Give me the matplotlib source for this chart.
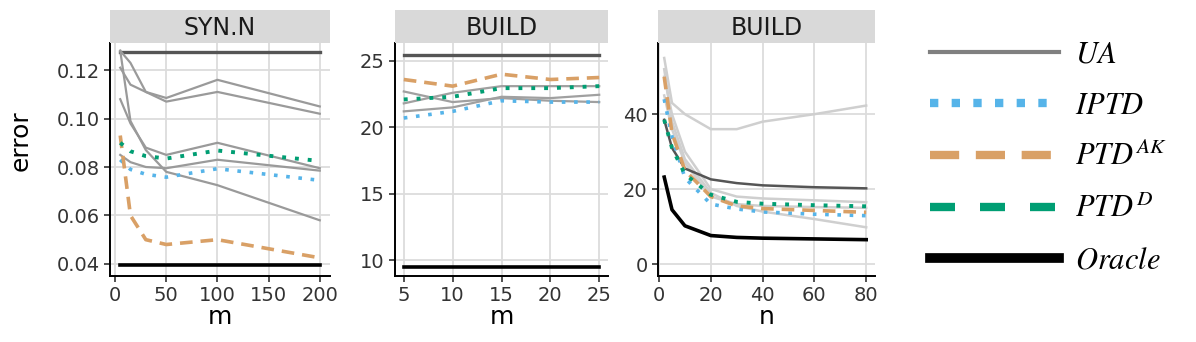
import numpy as np
import matplotlib.pyplot as plt
from matplotlib.lines import Line2D

plt.rcParams['mathtext.fontset'] = 'stix'

# SYN.N panel, error vs m
m_syn = [5, 15, 30, 50, 100, 200]
ua_syn = [
    [0.128, 0.123, 0.111, 0.1085, 0.116, 0.105],
    [0.121, 0.114, 0.111, 0.107, 0.111, 0.102],
    [0.108, 0.098, 0.088, 0.085, 0.090, 0.0795],
    [0.128, 0.099, 0.087, 0.078, 0.0725, 0.058],
    [0.085, 0.082, 0.080, 0.0795, 0.083, 0.0785],
]
ua_top_syn = [0.1276] * 6
iptd_syn = [0.083, 0.079, 0.077, 0.0758, 0.0793, 0.0745]
ptdak_syn = [0.093, 0.060, 0.050, 0.048, 0.050, 0.0425]
ptdd_syn = [0.090, 0.0865, 0.0845, 0.0835, 0.0868, 0.0825]
oracle_syn = [0.0397] * 6

# BUILD panel, error vs m
m_build = [5, 10, 15, 20, 25]
ua_build = [
    [22.7, 21.9, 22.2, 22.0, 21.9],
    [21.8, 22.6, 23.1, 23.1, 23.1],
    [21.2, 21.5, 22.3, 22.2, 22.45],
]
ua_top_build = [25.45] * 5
iptd_build = [20.7, 21.2, 22.0, 21.9, 21.9]
ptdak_build = [23.6, 23.1, 24.0, 23.6, 23.75]
ptdd_build = [22.1, 22.3, 22.95, 22.95, 23.1]
oracle_build = [9.45] * 5

# BUILD panel, error vs n
n_build = [2, 5, 10, 20, 30, 40, 60, 80]
ua_light_n = [
    [55, 43, 40, 36, 36, 38, 40, 42.3],
    [52, 38, 28, 19, 15.5, 14, 12, 9.8],
    [50, 40, 30, 20, 18, 17.5, 17, 16.5],
    [45, 36, 27, 18, 16, 15.5, 15.2, 15],
]
ua_dark_n = [38.5, 31, 25.5, 22.6, 21.6, 21.0, 20.5, 20.2]
iptd_n = [44, 34, 23, 16, 14.7, 13.9, 13.3, 12.9]
ptdak_n = [50, 35, 25, 18, 15.5, 14.8, 14.3, 13.8]
ptdd_n = [38.5, 31, 24, 18.5, 16.6, 16.1, 15.7, 15.4]
oracle_n = [23.2, 14.5, 10.2, 7.6, 7.1, 6.9, 6.7, 6.5]

BLUE = '#56B4E9'
ORANGE = '#D9A066'
GREEN = '#009E73'

W, H = 1196, 342
fig = plt.figure(figsize=(W / 100, H / 100), dpi=100)


def panel(x0, x1, title):
    ax = fig.add_axes([x0 / W, 1 - 276 / H, (x1 - x0) / W, 233 / H])
    st = fig.add_axes([x0 / W, 1 - 43 / H, (x1 - x0) / W, 33 / H])
    st.set_facecolor('#d9d9d9')
    st.set_xticks([])
    st.set_yticks([])
    for s in st.spines.values():
        s.set_visible(False)
    st.text(0.5, 0.45, title, ha='center', va='center', fontsize=17, color='#1a1a1a')
    for s in ['top', 'right']:
        ax.spines[s].set_visible(False)
    for s in ['left', 'bottom']:
        ax.spines[s].set_linewidth(1.4)
    ax.grid(True, color='#dcdcdc', lw=1.3)
    ax.set_axisbelow(True)
    ax.tick_params(labelsize=14, colors='#333333', length=4, width=1.2)
    return ax


def methods(ax, x, iptd, ptdak, ptdd):
    ax.plot(x, iptd, color=BLUE, lw=2.6, dashes=(1, 2.4))
    ax.plot(x, ptdak, color=ORANGE, lw=2.6, dashes=(3.5, 2.2))
    ax.plot(x, ptdd, color=GREEN, lw=2.8, dashes=(1, 2.3))


# panel 1
ax1 = panel(110, 330, 'SYN.N')
ax1.plot(m_syn, ua_top_syn, color='#555555', lw=2.4)
for ys in ua_syn:
    ax1.plot(m_syn, ys, color='#9a9a9a', lw=1.6)
methods(ax1, m_syn, iptd_syn, ptdak_syn, ptdd_syn)
ax1.plot(m_syn, oracle_syn, color='black', lw=2.6)
ax1.set_xlim(-5, 210)
ax1.set_ylim(0.035, 0.1312)
ax1.set_xticks([0, 50, 100, 150, 200])
ax1.set_yticks([0.04, 0.06, 0.08, 0.10, 0.12])
ax1.set_yticklabels(['0.04', '0.06', '0.08', '0.10', '0.12'])
ax1.set_xlabel('m', fontsize=18, labelpad=0)
ax1.set_ylabel('error', fontsize=18)
ax1.yaxis.set_label_coords(-0.35, 0.58)

# panel 2
ax2 = panel(395, 608, 'BUILD')
ax2.plot(m_build, ua_top_build, color='#555555', lw=2.4)
for ys in ua_build:
    ax2.plot(m_build, ys, color='#a0a0a0', lw=1.6)
methods(ax2, m_build, iptd_build, ptdak_build, ptdd_build)
ax2.plot(m_build, oracle_build, color='black', lw=2.6)
ax2.set_xlim(4.1, 25.9)
ax2.set_ylim(8.8, 26.35)
ax2.set_xticks([5, 10, 15, 20, 25])
ax2.set_yticks([10, 15, 20, 25])
ax2.set_xlabel('m', fontsize=18, labelpad=0)

# panel 3
ax3 = panel(658, 875, 'BUILD')
for ys in ua_light_n:
    ax3.plot(n_build, ys, color='#cfcfcf', lw=1.8)
ax3.plot(n_build, ua_dark_n, color='#555555', lw=1.8)
methods(ax3, n_build, iptd_n, ptdak_n, ptdd_n)
ax3.plot(n_build, oracle_n, color='black', lw=2.6)
ax3.set_xlim(-0.4, 83.4)
ax3.set_ylim(-3.2, 59)
ax3.set_xticks([0, 20, 40, 60, 80])
ax3.set_yticks([0, 20, 40])
ax3.set_xlabel('n', fontsize=18, labelpad=0)

# legend
handles = [
    Line2D([], [], color='#808080', lw=3),
    Line2D([], [], color=BLUE, lw=6, dashes=(1, 1.6)),
    Line2D([], [], color=ORANGE, lw=6, dashes=(3.5, 2)),
    Line2D([], [], color=GREEN, lw=6, dashes=(3, 3)),
    Line2D([], [], color='black', lw=7),
]
labels = ['$UA$', '$IPTD$', '$PTD^{AK}$', '$PTD^{D}$', '$Oracle$']
fig.legend(handles, labels, loc='center left', bbox_to_anchor=(915 / W, 1 - 157 / H),
           frameon=False, fontsize=22, handlelength=4.2, handletextpad=0.55,
           labelspacing=0.72, borderpad=0)

fig.savefig('out.png', dpi=100)
